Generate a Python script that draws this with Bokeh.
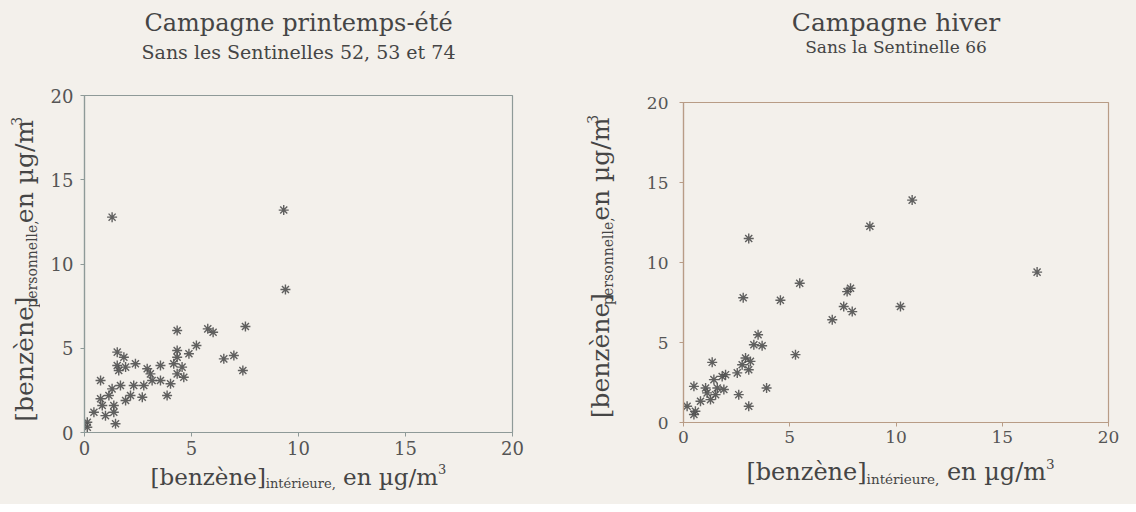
import math
from bokeh.plotting import figure
from bokeh.layouts import row, column
from bokeh.models import Range1d, FixedTicker
from bokeh.core.properties import value
from bokeh.embed import file_html
from bokeh.resources import INLINE

# ---------------- data ----------------
ete_x = [0.13, 0.13, 0.44, 0.98, 1.37, 1.45, 0.83, 1.37, 0.75, 1.14, 1.92, 2.15, 2.70, 1.29, 1.68,
         2.30, 2.77, 0.75, 1.60, 1.92, 1.53, 1.84, 1.53, 2.38, 2.93, 3.08, 3.16, 3.55, 3.86, 4.02,
         4.33, 4.64, 3.55, 4.17, 4.56, 4.33, 4.33, 4.88, 5.23, 4.33, 5.76, 6.01, 7.52, 6.51, 6.98,
         7.40, 1.29, 9.31, 9.39]
ete_y = [0.31, 0.61, 1.20, 1.00, 1.20, 0.52, 1.60, 1.60, 2.00, 2.20, 1.90, 2.20, 2.09, 2.59, 2.79,
         2.79, 2.79, 3.09, 3.68, 3.88, 3.98, 4.47, 4.77, 4.08, 3.78, 3.48, 3.09, 3.09, 2.20, 2.89,
         3.48, 3.28, 3.98, 4.08, 3.88, 4.47, 4.87, 4.67, 5.16, 6.05, 6.15, 5.95, 6.29, 4.37, 4.57,
         3.68, 12.78, 13.20, 8.49]

hiver_x = [0.49, 0.56, 0.17, 0.80, 1.27, 1.51, 1.11, 1.04, 0.49, 1.59, 1.90, 1.43, 1.82, 1.98,
           2.53, 3.07, 2.76, 3.15, 2.92, 1.35, 2.60, 3.07, 3.91, 5.27, 3.31, 3.70, 3.51, 2.81,
           4.56, 5.47, 3.07, 7.00, 7.54, 7.94, 7.70, 7.86, 8.77, 10.76, 10.21, 16.64]
hiver_y = [0.50, 0.70, 1.02, 1.33, 1.43, 1.74, 1.85, 2.16, 2.26, 2.16, 2.06, 2.68, 2.88, 2.99,
           3.10, 3.30, 3.61, 3.82, 4.03, 3.76, 1.74, 1.02, 2.16, 4.24, 4.86, 4.80, 5.48, 7.80,
           7.64, 8.70, 11.50, 6.42, 7.25, 6.93, 8.18, 8.39, 12.27, 13.90, 7.25, 9.40]

ticks = [0, 5, 10, 15, 20]
titles = ["Campagne printemps-été", "Campagne hiver"]
subtitles = ["Sans les Sentinelles 52, 53 et 74", "Sans la Sentinelle 66"]
xlab = ["[benzène]", "intérieure,", " en µg/m", "3"]
ylab = ["[benzène]", "personnelle,", " en µg/m", "3"]

# ---------------- style ----------------
BG = "#f3f0eb"
FONT = "DejaVu Serif"
TXT = "#454545"
BOX = {"background-color": BG}

# approximate DejaVu Serif advance widths (em) for laying out the composite labels
W = {' ': .318, '[': .390, ']': .390, 'b': .640, 'e': .592, 'n': .644, 'z': .525, 'è': .592,
     'é': .592, 'i': .320, 't': .402, 'r': .478, 'u': .644, ',': .318, 'p': .640, 's': .513,
     'o': .602, 'l': .320, 'µ': .652, 'g': .640, '/': .337, 'm': .948, '3': .636}


def tw(s, size):
    return sum(W.get(c, .58) for c in s) * size


def text_fig(w, h):
    f = figure(width=w, height=h, x_range=Range1d(0, w), y_range=Range1d(h, 0),
               x_axis_location=None, y_axis_location=None,
               min_border=0, output_backend="svg", toolbar_location=None)
    f.background_fill_color = BG
    f.border_fill_color = BG
    f.outline_line_color = None
    f.grid.visible = False
    return f


def put(f, x, y, s, size, angle=0.0):
    # y measured downward from the top of the text figure (flipped y range)
    f.text(x=[x], y=[y], text=[s], angle=angle, text_font=value(FONT),
           text_font_size=value(f"{size}px"), text_color=TXT, text_align="center",
           text_baseline="middle")


def scatter_fig(xs, ys, bl, fw, br, bt, fh, bb, frame_col, tick_fs, ystand, xstand):
    p = figure(width=bl + fw + br, height=bt + fh + bb, frame_width=fw, frame_height=fh,
               min_border_left=bl, min_border_right=br, min_border_top=bt, min_border_bottom=bb,
               x_range=Range1d(0, 20), y_range=Range1d(0, 20),
               output_backend="svg", toolbar_location=None)
    p.background_fill_color = BG
    p.border_fill_color = BG
    p.outline_line_color = frame_col
    p.outline_line_width = 1.2
    p.grid.visible = False
    for ax in (p.xaxis[0], p.yaxis[0]):
        ax.ticker = FixedTicker(ticks=ticks)
        ax.minor_tick_line_color = None
        ax.major_tick_in = 0
        ax.major_tick_out = 4
        ax.axis_line_color = frame_col
        ax.major_tick_line_color = frame_col
        ax.axis_line_width = 1.2
        ax.major_label_text_font = FONT
        ax.major_label_text_font_size = f"{tick_fs}px"
        ax.major_label_text_color = "#555555"
    p.yaxis.major_label_standoff = ystand
    p.xaxis.major_label_standoff = xstand
    p.scatter(xs, ys, marker="asterisk", size=10, line_color="#505050", line_width=1.4,
              line_alpha=0.9)
    return p


def composite(f, parts, sizes, shifts, center, fixed, rotated):
    widths = [tw(s, z) for s, z in zip(parts, sizes)]
    total = sum(widths)
    acc = 0.0
    for s, z, d, w in zip(parts, sizes, shifts, widths):
        lead = len(s) - len(s.lstrip(" "))
        lw = tw(" " * lead, z)
        s2 = s.lstrip(" ")
        mid = acc + lw + (w - lw) / 2
        if rotated:
            # text runs bottom -> top; center measured downward in figure coords
            put(f, fixed + d, center + total / 2 - mid, s2, z, math.pi / 2)
        else:
            put(f, center - total / 2 + mid, fixed + d, s2, z)
        acc += w


def panel(xs, ys, title, subtitle, g):
    PW = 568
    TOT = 504
    bt, bb = 12, 28
    th = g["ftop"] - bt
    # title area
    T = text_fig(PW, th)
    put(T, g["cx"], g["ty"], title, g["tfs_t"])
    put(T, g["cx"], g["sy"], subtitle, g["sfs"])
    # scatter area
    S = scatter_fig(xs, ys, g["bl"], g["fw"], PW - g["ylw"] - g["bl"] - g["fw"], bt, g["fh"], bb,
                    g["col"], g["tfs"], g["ystand"], 4)
    sh = bt + g["fh"] + bb
    # y label area (rotated composite label)
    YL = text_fig(g["ylw"], sh)
    ysz = [g["ybig"], g["ysmall"], g["ybig"], g["ysmall"]]
    composite(YL, ylab, ysz, [0, 7, 0, -8], g["ycen"] - th, g["ylx"], True)
    # x label area (composite label)
    xh = TOT - th - sh
    XL = text_fig(PW, xh)
    xsz = [g["big"], g["small"], g["big"], g["small"]]
    composite(XL, xlab, xsz, [0, 7, 0, -8], g["xcx"], g["xly"] - th - sh, False)
    return column(T, row(YL, S, styles=BOX), XL, styles=BOX)


g1 = dict(ftop=95, ty=22, sy=51, tfs_t=24, sfs=19, cx=298, ylw=40, bl=44, fw=428, fh=337,
          col="#8e9a98", tfs=18, ystand=7, ylx=24, ycen=274, ybig=25, ysmall=14,
          xcx=298, xly=476, big=23, small=13)
g2 = dict(ftop=102, ty=22, sy=46, tfs_t=25, sfs=17, cx=327.5, ylw=60, bl=55, fw=425, fh=320,
          col="#b89c86", tfs=17, ystand=11, ylx=32, ycen=271, ybig=25, ysmall=14,
          xcx=332, xly=471, big=24, small=13.5)

left = panel(ete_x, ete_y, titles[0], subtitles[0], g1)
right = panel(hiver_x, hiver_y, titles[1], subtitles[1], g2)

layout = row(left, right, styles=BOX)
html = file_html(layout, INLINE)
html = html.replace("<body>", f'<body style="background:{BG}">', 1)
open("out.html", "w").write(html)
